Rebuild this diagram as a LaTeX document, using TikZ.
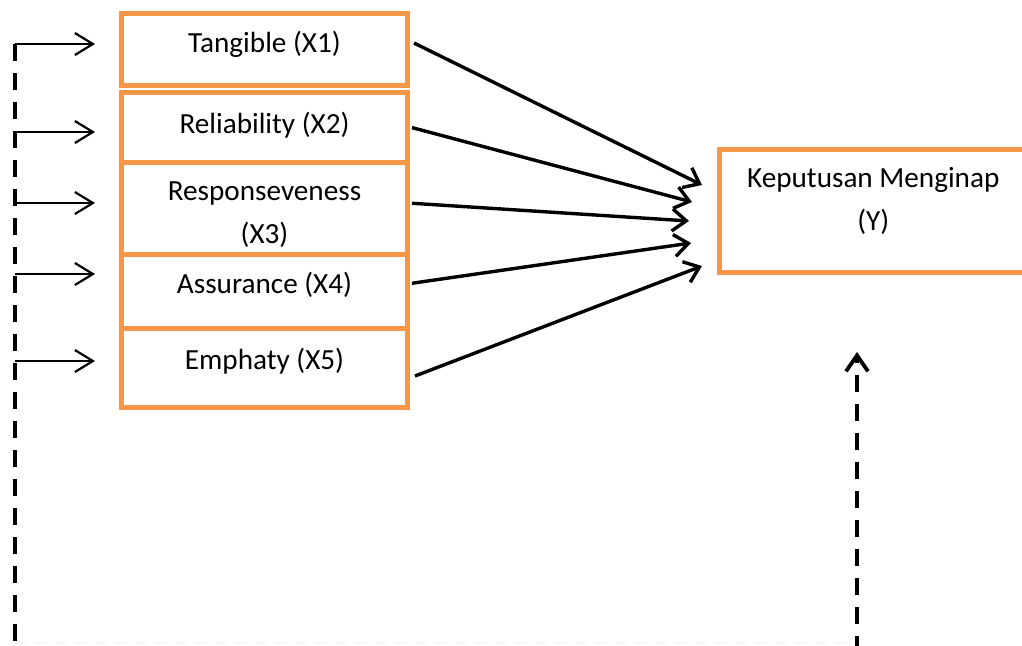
\documentclass[tikz,border=0pt]{standalone}
\usepackage{fontspec}
\setmainfont{Carlito}
\usetikzlibrary{arrows.meta,calc}
\definecolor{boxorange}{HTML}{F79646}
\tikzset{
  varbox/.style={draw=boxorange, line width=2.5pt, minimum width=142.75pt, inner sep=0pt},
  txt/.style={font=\fontsize{14.6}{21.5}\selectfont, align=center, inner sep=0pt},
  flow/.style={line width=1.7pt, -{Straight Barb[length=7pt,width=11pt]}},
  feed/.style={line width=1.1pt, -{Straight Barb[length=9pt,width=11pt]}},
  link/.style={line width=1.9pt, dash pattern=on 8.5pt off 6pt},
}
\begin{document}
\begin{tikzpicture}[x=0.5pt,y=-0.5pt]
\useasboundingbox (0,0) rectangle (1022,645);

% Boxes
\node[varbox, minimum height=36pt] (x1) at (264.25,49) {};
\node[varbox, minimum height=34.9pt] (x2) at (264.25,127.6) {};
\node[varbox, minimum height=45.75pt] (x3) at (264.25,208.25) {};
\node[varbox, minimum height=37.25pt] (x4) at (264.25,291.25) {};
\node[varbox, minimum height=39.5pt] (x5) at (264.25,368) {};
\node[varbox, minimum width=153.75pt, minimum height=61.5pt] (y) at (873.25,211) {};

\node[txt] (t1) at (264.5,44) {Tangible (X1)};
\node[txt] (t2) at (264.5,125) {Reliability (X2)};
\node[txt] (t3) at (264.5,215) {Responseveness\\(X3)};
\node[txt] (t4) at (264.5,285) {Assurance (X4)};
\node[txt] (t5) at (264.5,361) {Emphaty (X5)};
\node[txt] (ty) at (873.25,201) {Keputusan Menginap\\(Y)};

% Feedback line
\coordinate (s1) at (15,44);
\coordinate (s2) at (15,132);
\coordinate (s3) at (15,203);
\coordinate (s4) at (15,274);
\coordinate (s5) at (15,361);
\coordinate (b1) at (15,643);
\coordinate (b2) at (857,643);

\draw[gray!7, line width=1pt, dash pattern=on 6pt off 4pt] (b1) -- (b2);
\draw[link] (s1) -- ([yshift=-5pt]b1);
\draw[link, -{Straight Barb[length=8pt,width=11pt]}, shorten >=38.5pt] ([yshift=-5pt]b2) -- (b2 |- y.south);

\foreach \i in {1,...,5}
  \draw[feed, shorten >=12pt] (s\i) -- (s\i -| x\i.west);

% Effects on Y
\draw[flow] ([shift={(4.5,-6)}]x1.east) -- ([shift={(-15,-26)}]y.west);
\draw[flow] ([shift={(2.5,0)}]x2.east) -- ([shift={(-25,-9)}]y.west);
\draw[flow] ([shift={(2.5,-5)}]x3.east) -- ([shift={(-28,10)}]y.west);
\draw[flow] ([shift={(2.5,-8)}]x4.east) -- ([shift={(-26,32)}]y.west);
\draw[flow] ([shift={(5.5,8)}]x5.east) -- ([shift={(-15,55)}]y.west);
\end{tikzpicture}
\end{document}
